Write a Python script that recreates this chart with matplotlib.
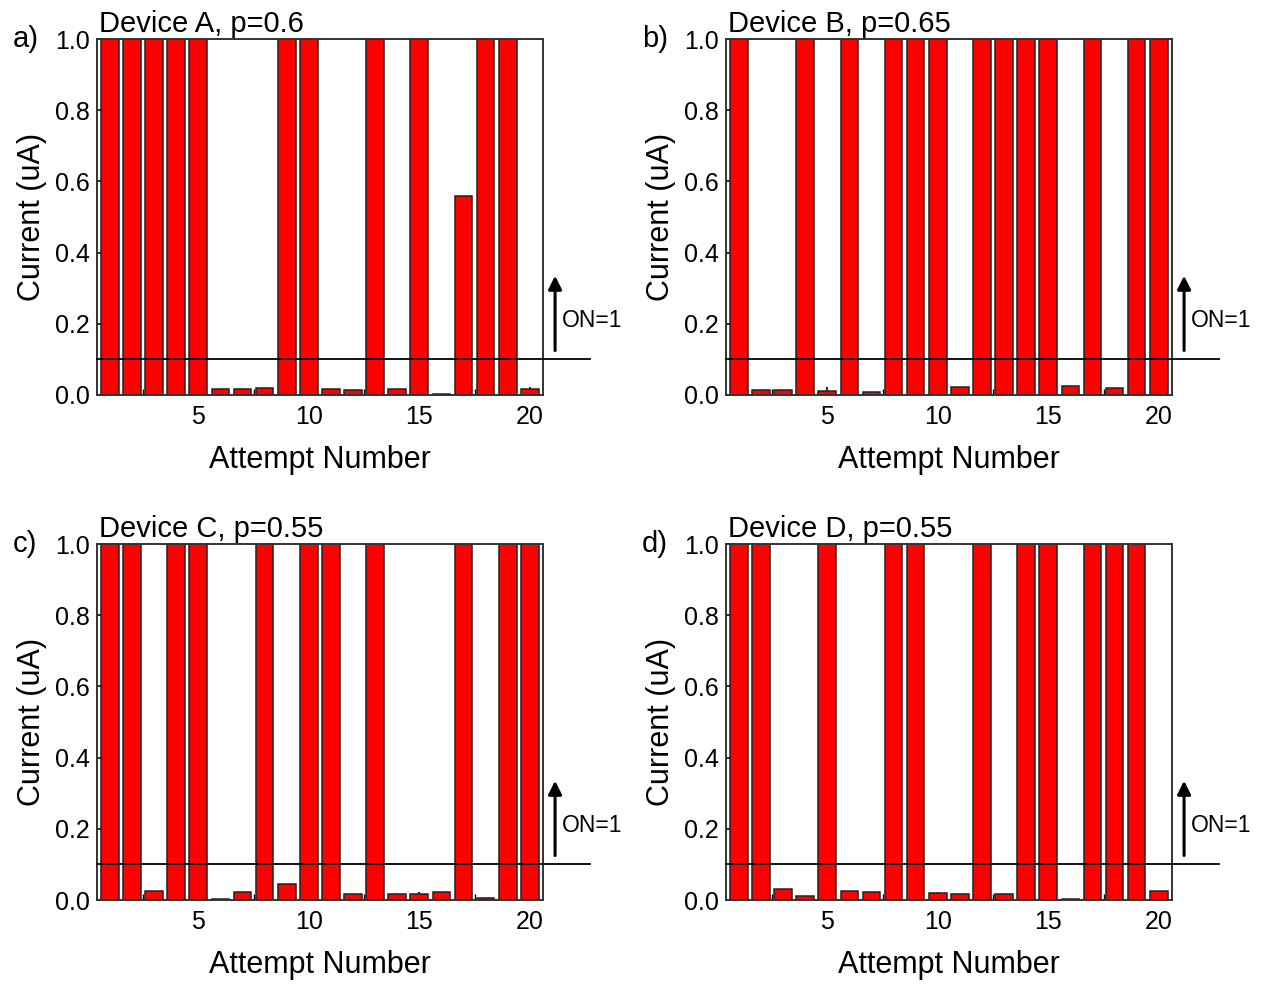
import numpy as np
import matplotlib
matplotlib.use("Agg")
import matplotlib.pyplot as plt
from matplotlib.ticker import MultipleLocator

plt.rcParams['font.family'] = ['Liberation Sans', 'DejaVu Sans']

attempts = np.arange(1, 21)

# current readings (uA), ON bars clipped at the top of the axis
device_a = [1.0, 1.0, 1.0, 1.0, 1.0, 0.016, 0.016, 0.019, 1.0, 1.0,
            0.016, 0.014, 1.0, 0.017, 1.0, 0.003, 0.56, 1.0, 1.0, 0.016]
device_b = [1.0, 0.014, 0.014, 1.0, 0.01, 1.0, 0.007, 1.0, 1.0, 1.0,
            0.023, 1.0, 1.0, 1.0, 1.0, 0.026, 1.0, 0.02, 1.0, 1.0]
device_c = [1.0, 1.0, 0.026, 1.0, 1.0, 0.002, 0.022, 1.0, 0.044, 1.0,
            1.0, 0.016, 1.0, 0.017, 0.017, 0.022, 1.0, 0.007, 1.0, 1.0]
device_d = [1.0, 1.0, 0.03, 0.011, 1.0, 0.025, 0.022, 1.0, 1.0, 0.019,
            0.018, 1.0, 0.016, 1.0, 1.0, 0.004, 1.0, 1.0, 1.0, 0.025]

panels = [
    ("a)", "Device A, p=0.6", device_a),
    ("b)", "Device B, p=0.65", device_b),
    ("c)", "Device C, p=0.55", device_c),
    ("d)", "Device D, p=0.55", device_d),
]
threshold = 0.1

fig = plt.figure(figsize=(12.62, 9.86), dpi=100)

lefts = [0.0769, 0.5753]
bottoms = [0.5994, 0.0872]
w, h = 0.3534, 0.3610

for k, (tag, title, vals) in enumerate(panels):
    row, col = divmod(k, 2)
    ax = fig.add_axes([lefts[col], bottoms[row], w, h])
    ax.bar(attempts, vals, width=0.8, color='#ff0000', edgecolor='#222222',
           linewidth=1.1, zorder=2)
    ax.set_ylim(0, 1.0)
    ax.xaxis.set_major_locator(MultipleLocator(5))
    ax.xaxis.set_minor_locator(MultipleLocator(2.5))
    ax.yaxis.set_major_locator(MultipleLocator(0.2))
    ax.yaxis.set_major_formatter(plt.FuncFormatter(lambda v, p: f"{v:.1f}"))
    ax.tick_params(axis='both', which='major', direction='in', length=6,
                   width=1.2, labelsize=18, pad=5)
    ax.tick_params(axis='x', which='minor', direction='in', length=4, width=1.0)
    ax.tick_params(axis='x', pad=7)
    ax.set_xlim(0.42, 20.6)
    for s in ax.spines.values():
        s.set_linewidth(1.4)
        s.set_color('#333333')
        s.set_zorder(3)
    ax.set_xlabel("Attempt Number", fontsize=22, labelpad=12)
    ax.set_ylabel("Current (uA)", fontsize=22, labelpad=6)

    # threshold line running past the right edge
    ax.plot([0, 1.105], [threshold, threshold], transform=ax.get_yaxis_transform(),
            color='black', linewidth=1.3, clip_on=False, zorder=4)
    ax.annotate("", xy=(1.027, 0.335), xytext=(1.027, 0.125),
                xycoords=ax.get_yaxis_transform(),
                arrowprops=dict(arrowstyle='-|>', color='black', lw=2.2,
                                mutation_scale=20, shrinkA=0, shrinkB=0))
    ax.text(1.042, 0.21, "ON=1", transform=ax.get_yaxis_transform(),
            fontsize=16.5, va='center', ha='left')

    ax.text(0.005, 1.003, title, transform=ax.transAxes, fontsize=21,
            va='bottom', ha='left')
    ax.text(-0.188, 1.0, tag, transform=ax.transAxes, fontsize=21,
            va='center', ha='left')

fig.savefig("out.png", dpi=100)
